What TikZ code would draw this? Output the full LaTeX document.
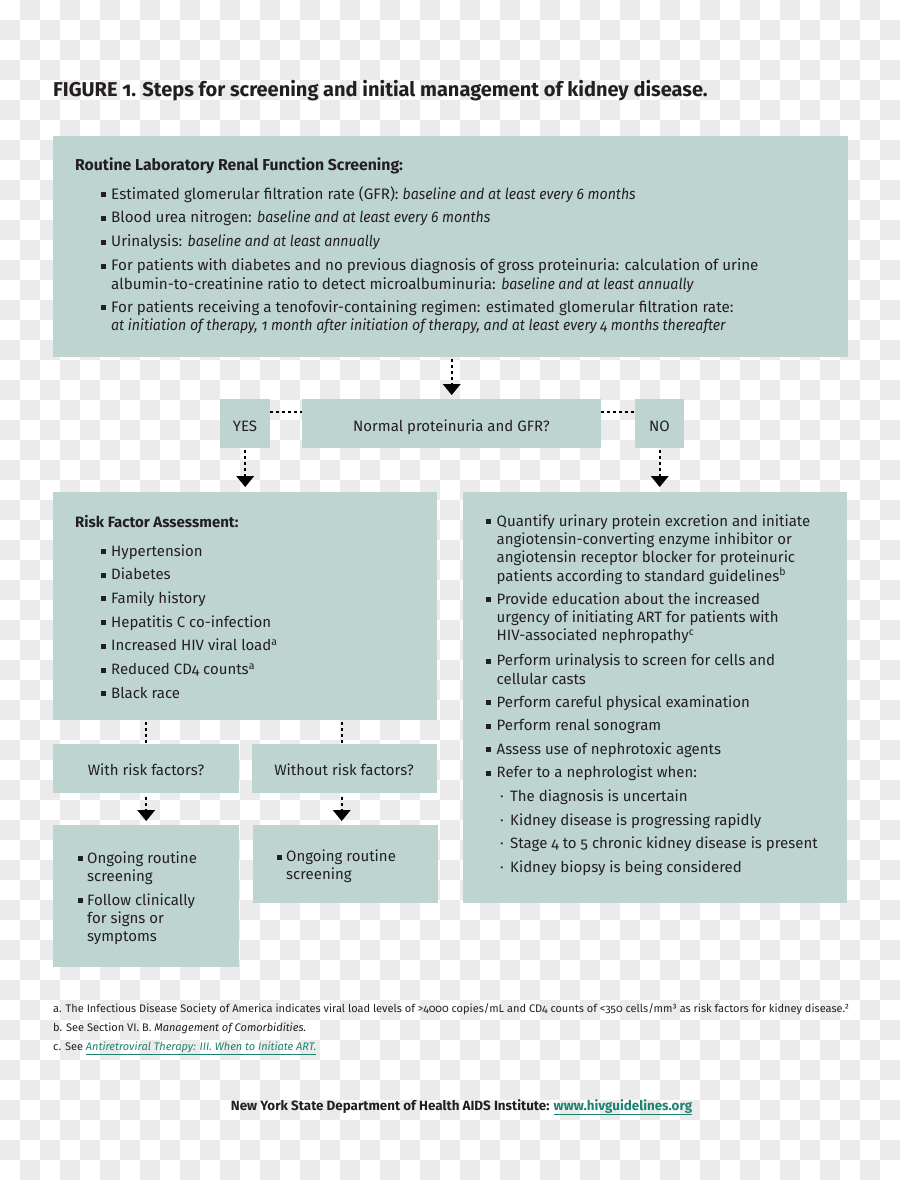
\documentclass[tikz,border=0pt]{standalone}
\usepackage{fontspec}
\setmainfont{Fira Sans}[Numbers=OldStyle]
\newfontfamily\condf{Fira Sans}[Numbers=OldStyle,ItalicFeatures={FakeStretch=0.93}]
\newfontfamily\bodyf{Fira Sans}[Numbers=OldStyle]
\usetikzlibrary{arrows.meta}
\definecolor{boxc}{RGB}{190,212,208}
\definecolor{chk}{RGB}{235,235,235}
\definecolor{ink}{RGB}{35,31,32}
\definecolor{linkc}{RGB}{30,130,112}
\newcommand{\sqb}{\rule[2pt]{5pt}{5pt}}
\newcommand{\BL}[2]{\begin{tabular}[t]{@{}l@{}l@{}}\makebox[#1][l]{\sqb}&#2\end{tabular}}
\newcommand{\DL}[2]{\begin{tabular}[t]{@{}l@{}l@{}}\makebox[#1][l]{·}&#2\end{tabular}}
\begin{document}
\begin{tikzpicture}[x=1pt,y=-1pt,
  box/.style={fill=boxc,draw=none,inner sep=0pt,anchor=north west},
  txt/.style={anchor=base west,inner sep=0pt,text=ink},
  ctxt/.style={anchor=base,inner sep=0pt,text=ink},
  topf/.style={font=\condf\fontsize{15.2}{18.5}\selectfont},
  bodyfnt/.style={font=\bodyf\fontsize{15}{18.3}\selectfont},
  dotln/.style={draw=black,line width=2.4pt,dash pattern=on 2.4pt off 3.6pt},
  darr/.style={dotln,-{Triangle[width=18pt,length=11pt,line width=0pt]}}]
\useasboundingbox (0,0) rectangle (900,1180);
% checkerboard background
\fill[white] (0,0) rectangle (900,1180);
\foreach \i in {0,...,44}{\foreach \j in {0,...,58}{%
  \pgfmathtruncatemacro\s{mod(\i+\j,2)}%
  \ifnum\s=1 \fill[chk] (\i*20,\j*20) rectangle ++(20,20);\fi}}
% title
\node[txt,font=\bfseries\fontsize{20}{22}\selectfont] (title) at (53,96.5)
  {FIGURE 1. Steps for screening and initial management of kidney disease.};
% boxes
\node[box,minimum width=795pt,minimum height=221pt] (top) at (53,136) {};
\node[box,minimum width=50pt,minimum height=49pt] (yes) at (220,399) {};
\node[box,minimum width=299pt,minimum height=49pt] (dec) at (302,399) {};
\node[box,minimum width=49pt,minimum height=49pt] (no) at (635,399) {};
\node[box,minimum width=384pt,minimum height=228pt] (risk) at (53,492) {};
\node[box,minimum width=384pt,minimum height=411pt] (right) at (463,492) {};
\node[box,minimum width=186pt,minimum height=49pt] (with) at (53,744) {};
\node[box,minimum width=185pt,minimum height=49pt] (without) at (252,744) {};
\node[box,minimum width=186pt,minimum height=142pt] (ong1) at (53,825) {};
\node[box,minimum width=185pt,minimum height=78pt] (ong2) at (253,825) {};
% top box text
\node[txt,font=\condf\bfseries\fontsize{15.8}{18.5}\selectfont] (toph) at (75,170.5) {Routine Laboratory Renal Function Screening:};
\node[txt,topf] (t1) at (101,199) {\BL{10pt}{Estimated glomerular filtration rate (GFR): \textit{baseline and at least every 6 months}}};
\node[txt,topf] (t2) at (101,222.7) {\BL{10pt}{Blood urea nitrogen: \textit{baseline and at least every 6 months}}};
\node[txt,topf] (t3) at (101,246.7) {\BL{10pt}{Urinalysis: \textit{baseline and at least annually}}};
\node[txt,topf] (t4) at (101,270.7) {\BL{10pt}{For patients with diabetes and no previous diagnosis of gross proteinuria: calculation of urine\\ & albumin-to-creatinine ratio to detect microalbuminuria: \textit{baseline and at least annually}}};
\node[txt,topf] (t5) at (101,312.3) {\BL{10pt}{For patients receiving a tenofovir-containing regimen: estimated glomerular filtration rate:\\ & \textit{at initiation of therapy, 1 month after initiation of therapy, and at least every 4 months thereafter}}};
% decision row
\node[ctxt,bodyfnt] (yest) at (245,431) {YES};
\node[ctxt,bodyfnt] (dect) at (451.5,431) {Normal proteinuria and GFR?};
\node[ctxt,bodyfnt] (not) at (659.5,431) {NO};
% risk box
\node[txt,font=\bodyf\bfseries\fontsize{15}{18.3}\selectfont] (riskh) at (75,527) {Risk Factor Assessment:};
\node[txt,bodyfnt] (k1) at (101,556) {\BL{10pt}{Hypertension}};
\node[txt,bodyfnt] (k2) at (101,579.7) {\BL{10pt}{Diabetes}};
\node[txt,bodyfnt] (k3) at (101,603.4) {\BL{10pt}{Family history}};
\node[txt,bodyfnt] (k4) at (101,627.1) {\BL{10pt}{Hepatitis C co-infection}};
\node[txt,bodyfnt] (k5) at (101,650.8) {\BL{10pt}{Increased HIV viral load\textsuperscript{a}}};
\node[txt,bodyfnt] (k6) at (101,674.5) {\BL{10pt}{Reduced CD4 counts\textsuperscript{a}}};
\node[txt,bodyfnt] (k7) at (101,698.2) {\BL{10pt}{Black race}};
% right box
\node[txt,bodyfnt] (r1) at (486,526) {\BL{10.5pt}{Quantify urinary protein excretion and initiate\\ & angiotensin-converting enzyme inhibitor or\\ & angiotensin receptor blocker for proteinuric\\ & patients according to standard guidelines\textsuperscript{b}}};
\node[txt,bodyfnt] (r2) at (486,604.3) {\BL{10.5pt}{Provide education about the increased\\ & urgency of initiating ART for patients with\\ & HIV-associated nephropathy\textsuperscript{c}}};
\node[txt,bodyfnt] (r3) at (486,665.7) {\BL{10.5pt}{Perform urinalysis to screen for cells and\\ & cellular casts}};
\node[txt,bodyfnt] (r4) at (486,707) {\BL{10.5pt}{Perform careful physical examination}};
\node[txt,bodyfnt] (r5) at (486,730.5) {\BL{10.5pt}{Perform renal sonogram}};
\node[txt,bodyfnt] (r6) at (486,754.2) {\BL{10.5pt}{Assess use of nephrotoxic agents}};
\node[txt,bodyfnt] (r7) at (486,777.8) {\BL{10.5pt}{Refer to a nephrologist when:}};
\node[txt,bodyfnt] (s1) at (500,801.5) {\DL{10pt}{The diagnosis is uncertain}};
\node[txt,bodyfnt] (s2) at (500,825) {\DL{10pt}{Kidney disease is progressing rapidly}};
\node[txt,bodyfnt] (s3) at (500,848.5) {\DL{10pt}{Stage 4 to 5 chronic kidney disease is present}};
\node[txt,bodyfnt] (s4) at (500,872.2) {\DL{10pt}{Kidney biopsy is being considered}};
% with / without
\node[ctxt,bodyfnt] (witht) at (146,775) {With risk factors?};
\node[ctxt,bodyfnt] (withoutt) at (344,775) {Without risk factors?};
\node[txt,bodyfnt] (o1) at (78,863) {\BL{9pt}{Ongoing routine\\ & screening}};
\node[txt,bodyfnt] (o2) at (78,905) {\BL{9pt}{Follow clinically\\ & for signs or\\ & symptoms}};
\node[txt,bodyfnt] (o3) at (277,861.5) {\BL{9pt}{Ongoing routine\\ & screening}};
% connectors
\draw[darr,shorten <=2pt,shorten >=4pt] (dec.north |- top.south) -- (dec.north);
\draw[dotln] ([yshift=-13pt]yes.north east) -- ([yshift=-13pt]dec.north west);
\draw[dotln] ([yshift=-13pt]dec.north east) -- ([yshift=-13pt]no.north west);
\draw[darr,shorten <=2pt,shorten >=5pt] (yes.south) -- (yes.south |- risk.north);
\draw[darr,shorten <=2pt,shorten >=5pt] (no.south) -- (no.south |- right.north);
\draw[dotln,shorten <=2pt] (with.north |- risk.south) -- (with.north);
\draw[dotln,shorten <=2pt] ([xshift=-3pt]without.north |- risk.south) -- ([xshift=-3pt]without.north);
\draw[darr,shorten <=4pt,shorten >=4pt] (with.south) -- (with.south |- ong1.north);
\draw[darr,shorten <=4pt,shorten >=4pt] ([xshift=-3pt]without.south) -- ([xshift=-3pt]without.south |- ong2.north);
% footnotes
\node[txt,font=\bodyf\fontsize{11}{13}\selectfont] (fa) at (53,1012) {a. The Infectious Disease Society of America indicates viral load levels of >4000 copies/mL and CD4 counts of <350 cells/mm³ as risk factors for kidney disease.²};
\node[txt,font=\bodyf\fontsize{11}{13}\selectfont] (fb) at (53,1031) {b. See Section VI. B. \textit{Management of Comorbidities.}};
\node[txt,font=\bodyf\fontsize{11}{13}\selectfont] (fc) at (53,1050) {c. See \textcolor{linkc}{\underline{\textit{Antiretroviral Therapy: III. When to Initiate ART.}}}};
% footer
\node[ctxt,font=\bfseries\fontsize{13.4}{15}\selectfont] (foot) at (461.5,1110) {New York State Department of Health AIDS Institute: \textcolor{linkc}{\underline{www.hivguidelines.org}}};
\end{tikzpicture}
\end{document}
